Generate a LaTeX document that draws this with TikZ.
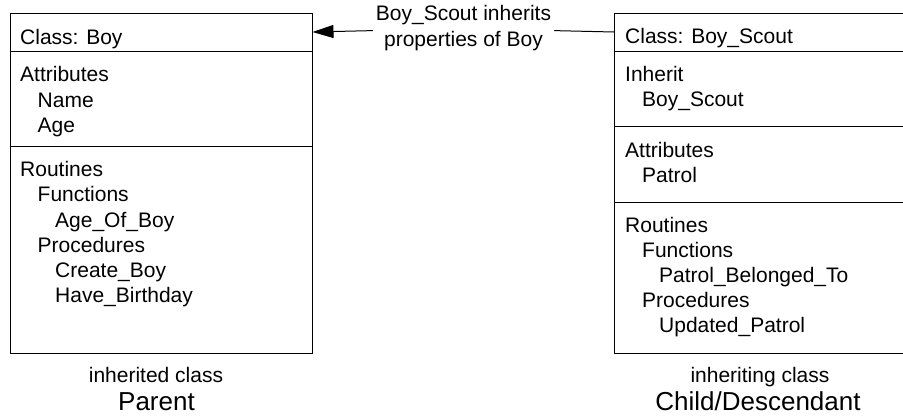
\documentclass[tikz,border=0pt]{standalone}
\usepackage{fontspec}
\setmainfont{Liberation Sans}
\usetikzlibrary{arrows.meta}

\begin{document}
\begin{tikzpicture}[x=1pt, y=-1pt,
  boxline/.style={draw=black, line width=1pt},
  classbox/.style={boxline, rectangle, inner sep=0pt, anchor=north west},
  member/.style={anchor=base west, inner sep=0pt, font=\fontsize{21}{25}\selectfont},
  caption/.style={anchor=base, inner sep=0pt, font=\fontsize{21}{25}\selectfont},
  role/.style={anchor=base, inner sep=0pt, font=\fontsize{26}{30}\selectfont},
  note/.style={align=center, inner xsep=3pt, inner ysep=2pt, font=\fontsize{21}{26}\selectfont},
  inherit/.style={line width=1pt, -{Triangle[length=21pt,width=13pt]}}
]
\useasboundingbox (0,0) rectangle (903,416);
\clip (0,0) rectangle (903,416);

% ---------- class Boy ----------
\node[classbox, minimum width=302pt, minimum height=340pt] (boyBox) at (10,13) {};
\draw[boxline] (10,51) -- (312,51);
\draw[boxline] (10,146) -- (312,146);

\node[member] (boyTitle) at (20,44) {Class: Boy};
\node[member] (boyAttr)  at (20,81) {Attributes};
\node[member] (boyName)  at (37.5,107) {Name};
\node[member] (boyAge)   at (37.5,132) {Age};
\node[member] (boyRout)  at (20,176) {Routines};
\node[member] (boyFunc)  at (37.5,201) {Functions};
\node[member] (boyAgeOf) at (55,227) {Age\_Of\_Boy};
\node[member] (boyProc)  at (37.5,252) {Procedures};
\node[member] (boyCreate) at (55,277) {Create\_Boy};
\node[member] (boyBirth) at (55,302) {Have\_Birthday};

\node[caption] (boyCap)  at (156,382) {inherited class};
\node[role]    (boyRole) at (156.5,410) {Parent};

% ---------- class Boy_Scout ----------
\node[classbox, minimum width=300pt, minimum height=340pt] (scoutBox) at (614,13) {};
\draw[boxline] (614,51) -- (914,51);
\draw[boxline] (614,126) -- (914,126);
\draw[boxline] (614,202) -- (914,202);

\node[member] (scTitle)  at (625,43) {Class: Boy\_Scout};
\node[member] (scInh)    at (625,81) {Inherit};
\node[member] (scInhName) at (642,106) {Boy\_Scout};
\node[member] (scAttr)   at (625,157) {Attributes};
\node[member] (scPatrol) at (642,182) {Patrol};
\node[member] (scRout)   at (625,232) {Routines};
\node[member] (scFunc)   at (642,257) {Functions};
\node[member] (scBelong) at (659,282) {Patrol\_Belonged\_To};
\node[member] (scProc)   at (642,307) {Procedures};
\node[member] (scUpdate) at (659,332) {Updated\_Patrol};

\node[caption] (scCap)  at (760,382) {inheriting class};
\node[role]    (scRole) at (758,410) {Child/Descendant};

% ---------- inheritance link ----------
\node[note] (inhNote) at (463.5,28.5) {Boy\_Scout inherits\\properties of Boy};
\coordinate (tipIn)  at (312.5,32);
\coordinate (tailOut) at (614,32);
\draw[line width=1pt] (inhNote) -- (tailOut);
\draw[inherit] (inhNote) -- (tipIn);
\end{tikzpicture}
\end{document}
